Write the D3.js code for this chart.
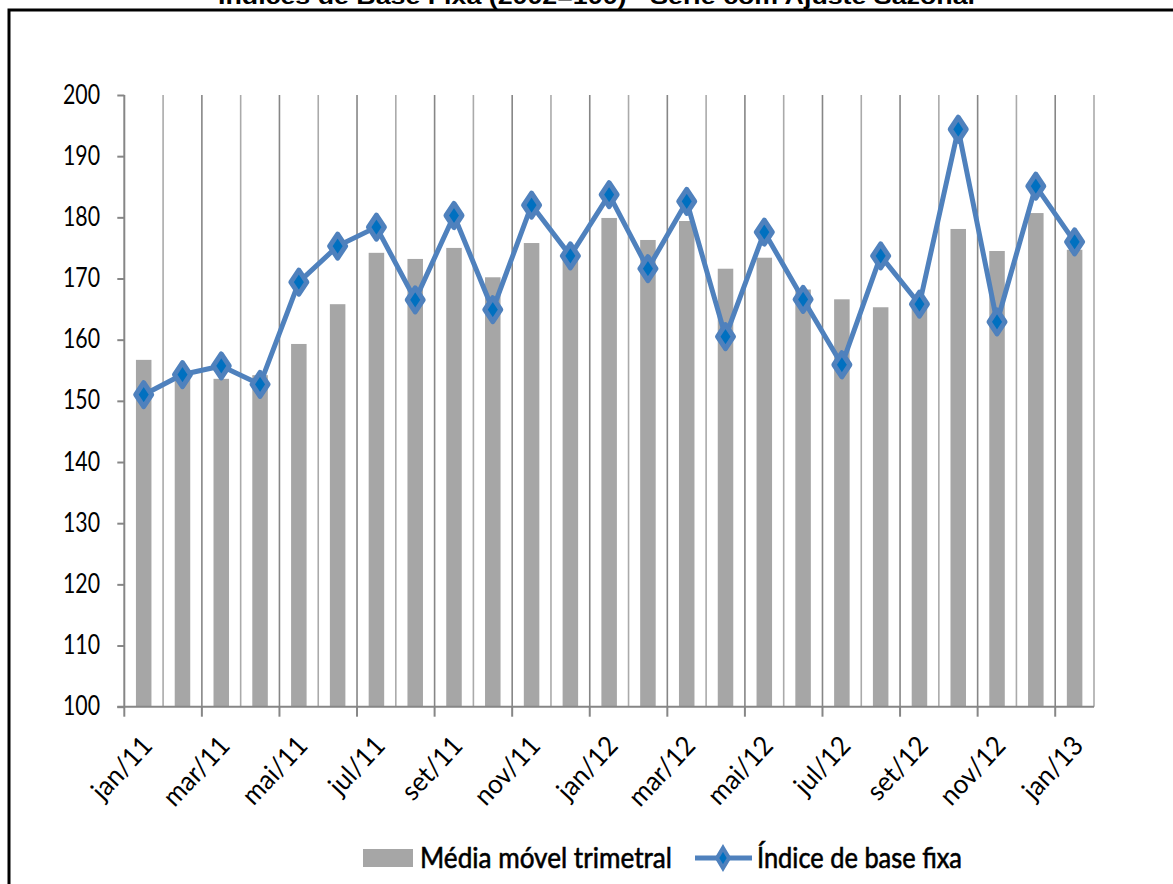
<!DOCTYPE html>
<html>
<head>
<meta charset="utf-8">
<script src="https://cdn.jsdelivr.net/npm/d3@7"></script>
<style>
  html, body { margin: 0; padding: 0; background: #fff; }
  svg { display: block; }
</style>
</head>
<body>
<svg id="chart" width="1173" height="884"></svg>
<script>
// ---- DATA ----
const titleText = "Índices de Base Fixa (2002=100) - Série com Ajuste Sazonal";
const categories = ["jan/11","fev/11","mar/11","abr/11","mai/11","jun/11","jul/11","ago/11","set/11","out/11","nov/11","dez/11",
                    "jan/12","fev/12","mar/12","abr/12","mai/12","jun/12","jul/12","ago/12","set/12","out/12","nov/12","dez/12","jan/13"];
const tickLabels = ["jan/11","mar/11","mai/11","jul/11","set/11","nov/11","jan/12","mar/12","mai/12","jul/12","set/12","nov/12","jan/13"];
const mediaMovel = [156.7,154.5,153.6,154.2,159.3,165.8,174.2,173.2,175.0,170.2,175.8,173.5,
                    179.9,176.3,179.4,171.6,173.4,168.2,166.6,165.3,165.1,178.1,174.5,180.7,174.7];
const indiceBase = [151.0,154.3,155.7,152.7,169.4,175.3,178.4,166.5,180.3,164.9,182.0,173.7,
                    183.7,171.6,182.6,160.5,177.6,166.6,155.9,173.7,165.8,194.4,162.9,185.1,176.0];
const yTicks = [100,110,120,130,140,150,160,170,180,190,200];
const seriesNames = ["Média móvel trimetral","Índice de base fixa"];

// ---- LAYOUT ----
const svg = d3.select("#chart");
const plot = {left: 124.3, right: 1094, top: 95, bottom: 706.7};
const x = d3.scaleBand().domain(categories).range([plot.left, plot.right]).paddingInner(0).paddingOuter(0);
const y = d3.scaleLinear().domain([100, 200]).range([plot.bottom, plot.top]);
const bw = x.bandwidth();
const tickFont = "Lato, 'Open Sans', sans-serif";

// border
svg.append("path")
  .attr("d", `M9,884 L9,10 L1180,10`)
  .attr("fill", "none").attr("stroke", "#000").attr("stroke-width", 3);

// title (top clipped)
svg.append("text")
  .attr("x", 218).attr("y", 4)
  .attr("textLength", 757).attr("lengthAdjust", "spacingAndGlyphs")
  .attr("font-family", "'Liberation Sans', Arial, sans-serif")
  .attr("font-weight", "bold").attr("font-size", 22)
  .attr("fill", "#000")
  .text(titleText);

// vertical gridlines at category boundaries
const boundaries = categories.map((c, i) => i).slice(1);
boundaries.push(categories.length);
svg.append("g").selectAll("line")
  .data(boundaries)
  .join("line")
  .attr("x1", i => plot.left + i * bw).attr("x2", i => plot.left + i * bw)
  .attr("y1", plot.top).attr("y2", plot.bottom)
  .attr("stroke", i => (i % 2 === 0 ? "#868686" : "#aaaaaa"))
  .attr("stroke-width", 1.6);

// bars
svg.append("g").selectAll("rect")
  .data(categories)
  .join("rect")
  .attr("x", (c) => x(c) + bw * 0.3)
  .attr("width", bw * 0.4)
  .attr("y", (c, i) => y(mediaMovel[i]))
  .attr("height", (c, i) => y(100) - y(mediaMovel[i]))
  .attr("fill", "#a6a6a6");

// y axis
const yAxis = svg.append("g").attr("transform", `translate(${plot.left},0)`)
  .call(d3.axisLeft(y).tickValues(yTicks).tickSize(7).tickFormat(""));
yAxis.selectAll("path,line").attr("stroke", "#868686").attr("stroke-width", 2);
yAxis.select(".domain").attr("d", `M0,${plot.top}V${plot.bottom}`);

svg.append("g").selectAll("g")
  .data(yTicks)
  .join("g")
  .attr("transform", d => `translate(100,${y(d) - 2}) scale(0.82,1.05)`)
  .append("text")
  .attr("text-anchor", "end")
  .attr("dominant-baseline", "central")
  .attr("font-family", tickFont)
  .attr("font-size", 26)
  .attr("fill", "#000")
  .text(d => d);

// x axis
const xTickPos = categories.map((c, i) => i).filter(i => i % 2 === 0);
svg.append("line")
  .attr("x1", plot.left - 7).attr("x2", plot.right)
  .attr("y1", plot.bottom).attr("y2", plot.bottom)
  .attr("stroke", "#868686").attr("stroke-width", 2);
svg.append("g").selectAll("line")
  .data(xTickPos)
  .join("line")
  .attr("x1", i => plot.left + i * bw).attr("x2", i => plot.left + i * bw)
  .attr("y1", plot.bottom).attr("y2", plot.bottom + 10)
  .attr("stroke", "#868686").attr("stroke-width", 2);

svg.append("g").selectAll("g")
  .data(tickLabels)
  .join("g")
  .attr("transform", d => `translate(${x(d) + bw / 2 - 4},${plot.bottom + 27}) rotate(-47) scale(0.95,1)`)
  .append("text")
  .attr("text-anchor", "end")
  .attr("dy", "0.72em")
  .attr("font-family", tickFont)
  .attr("font-size", 27)
  .attr("fill", "#000")
  .text(d => d);

// line series
const line = d3.line()
  .x((d, i) => x(categories[i]) + bw / 2)
  .y(d => y(d));
svg.append("path")
  .datum(indiceBase)
  .attr("d", line)
  .attr("fill", "none")
  .attr("stroke", "#4f81bd")
  .attr("stroke-width", 5)
  .attr("stroke-linejoin", "round");

const diamond = (hw, hh) => `M0,${-hh}L${hw},0L0,${hh}L${-hw},0Z`;
svg.append("g").selectAll("path")
  .data(indiceBase)
  .join("path")
  .attr("transform", (d, i) => `translate(${x(categories[i]) + bw / 2},${y(d)})`)
  .attr("d", diamond(8, 12))
  .attr("fill", "#0070c0")
  .attr("stroke", "#4f81bd")
  .attr("stroke-width", 5)
  .attr("stroke-linejoin", "round");

// legend
const lg = svg.append("g");
lg.append("rect").attr("x", 363).attr("y", 849).attr("width", 50).attr("height", 18).attr("fill", "#a6a6a6");
lg.append("text")
  .attr("x", 420).attr("y", 868)
  .attr("textLength", 252).attr("lengthAdjust", "spacingAndGlyphs")
  .attr("font-family", tickFont).attr("font-size", 29)
  .attr("stroke", "#000").attr("stroke-width", 0.6)
  .attr("fill", "#000").text(seriesNames[0]);
lg.append("line").attr("x1", 695).attr("x2", 752).attr("y1", 858).attr("y2", 858)
  .attr("stroke", "#4f81bd").attr("stroke-width", 5);
lg.append("path").attr("transform", "translate(723,858)")
  .attr("d", diamond(6, 10))
  .attr("fill", "#0070c0").attr("stroke", "#4f81bd").attr("stroke-width", 4);
lg.append("text")
  .attr("x", 757).attr("y", 868)
  .attr("textLength", 205).attr("lengthAdjust", "spacingAndGlyphs")
  .attr("font-family", tickFont).attr("font-size", 29)
  .attr("stroke", "#000").attr("stroke-width", 0.6)
  .attr("fill", "#000").text(seriesNames[1]);
</script>
</body>
</html>
